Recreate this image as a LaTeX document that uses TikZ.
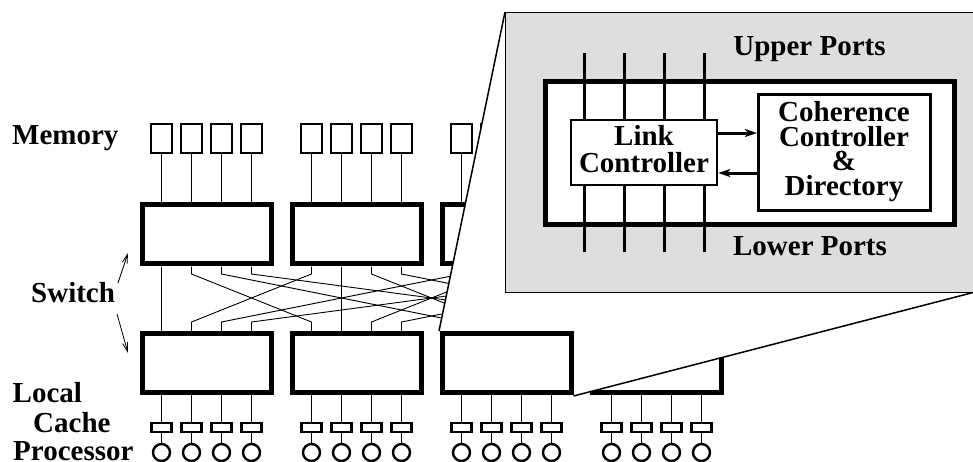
\documentclass[tikz,border=0pt]{standalone}
\usepackage{fontspec}
\setmainfont{Liberation Serif}
\usetikzlibrary{arrows.meta,calc}
\definecolor{panelgray}{RGB}{222,222,222}
\begin{document}
\begin{tikzpicture}[x=1pt,y=-1pt,
  lbl/.style={font=\fontsize{29}{29}\selectfont\bfseries, inner sep=0pt, anchor=base west},
  txt/.style={font=\fontsize{29}{29}\selectfont\bfseries, inner sep=0pt},
  mem/.style={draw, line width=2pt, minimum width=21pt, minimum height=29pt, inner sep=0pt, fill=white},
  swbox/.style={draw, line width=5pt, minimum width=129pt, minimum height=59pt, inner sep=0pt, fill=white},
  cachebox/.style={draw, line width=2.4pt, minimum width=20pt, minimum height=8.5pt, inner sep=0pt, fill=white},
  procnode/.style={draw, circle, line width=2.4pt, minimum size=17pt, inner sep=0pt, fill=white},
  wire/.style={line width=0.9pt},
  zline/.style={line width=1.5pt},
  sarr/.style={line width=0.8pt, -{Straight Barb[length=9pt,width=5pt]}},
  parr/.style={line width=3pt, -{Stealth[length=12pt,width=8pt,inset=3pt]}},
  portline/.style={line width=3pt}]
\clip (0,0) rectangle (973,461);
\fill[white] (0,0) rectangle (973,461);

% labels
\node[lbl] (lmem) at (12,144) {Memory};
\node[lbl] (lsw) at (31,302) {Switch};
\node[lbl] (lloc) at (12.5,402) {Local};
\node[lbl] (lcac) at (33,432) {Cache};
\node[lbl] (lpro) at (13,460) {Processor};
\coordinate (sa1) at (118,283); \coordinate (sb1) at (128,253);
\coordinate (sa2) at (117,314); \coordinate (sb2) at (128,353);
\draw[sarr] (sa1) -- (sb1);
\draw[sarr] (sa2) -- (sb2);

% memory and upper switches
\foreach \i in {0,...,3} {
  \node[swbox] (up-\i) at ({206.5+150*\i},234) {};
  \foreach \j in {0,...,3} {
    \node[mem] (m-\i-\j) at ({161.5+150*\i+30*\j},138.5) {};
    \draw[wire] (m-\i-\j.south) -- (m-\i-\j.south |- up-\i.north);
    \coordinate (ub-\i-\j) at ({161.5+150*\i+30*\j},266.5);
    \coordinate (lt-\i-\j) at ({161.5+150*\i+30*\j},331);
  }
}
% interconnection wires
\foreach \i in {0,...,3} {
  \foreach \j in {0,...,3} {
    \draw[wire] (ub-\i-\j) -- ++(0,7.5) -- ($(lt-\j-\i)+(0,-9)$) -- (lt-\j-\i);
  }
}
% lower switches (except the magnified one)
\foreach \i in {0,1,3} {
  \node[swbox] (lo-\i) at ({206.5+150*\i},363) {};
}
% magnifier cone
\coordinate (zA) at (439,331);
\coordinate (zB) at (573.5,396);
\coordinate (zC) at (975,292);
\coordinate (zT) at (505,12);
\fill[white] (zT) -- (zA) -- (zB) -- (zC) -- (975,12) -- cycle;
\node[swbox] (lo-2) at (506.5,363) {};

% caches and processors
\foreach \i in {0,...,3} {
  \foreach \j in {0,...,3} {
    \node[cachebox] (c-\i-\j) at ({161.5+150*\i+30*\j},427.5) {};
    \node[procnode] (p-\i-\j) at ({161.5+150*\i+30*\j},452.5) {};
    \draw[wire] (lo-\i.south -| c-\i-\j) -- (c-\i-\j.north);
    \draw[wire] (c-\i-\j.south) -- (p-\i-\j.north);
  }
}

% magnified panel
\node[draw, fill=panelgray, line width=1.3pt, minimum width=470pt, minimum height=280pt,
      inner sep=0pt, anchor=north west] (panel) at (zT) {};
\draw[zline] (zT) -- (zA);
\draw[zline] (zB) -- (zC);

\node[draw, fill=white, line width=5pt, minimum width=409pt, minimum height=143pt, inner sep=0pt] (sw) at (750,153) {};
\foreach \k/\x in {0/584,1/624,2/664,3/704} {
  \coordinate (pt-\k) at (\x,53);
  \coordinate (pb-\k) at (\x,252);
  \draw[portline] (pt-\k) -- (pb-\k);
}
\node[draw, fill=white, line width=2.5pt, minimum width=146pt, minimum height=65pt, inner sep=0pt] (link) at (644,152.5) {};
\node[txt, align=center, font=\fontsize{29}{27}\selectfont\bfseries] (linkt) at (644,148.7) {Link\\Controller};
\node[draw, fill=white, line width=3pt, minimum width=172pt, minimum height=116pt, inner sep=0pt] (coh) at (844.5,152.5) {};
\node[txt, align=center, font=\fontsize{29}{24.5}\selectfont\bfseries] (coht) at (844,151.7) {Coherence\\Controller\\\&\\Directory};
\draw[parr] ([yshift=19.5pt]link.east) -- ([yshift=19.5pt]coh.west);
\draw[parr] ([yshift=-20.5pt]coh.west) -- ([yshift=-20.5pt]link.east);

\node[txt, anchor=base] (upp) at (809.5,55) {Upper Ports};
\node[txt, anchor=base] (low) at (810,255) {Lower Ports};
\end{tikzpicture}
\end{document}
